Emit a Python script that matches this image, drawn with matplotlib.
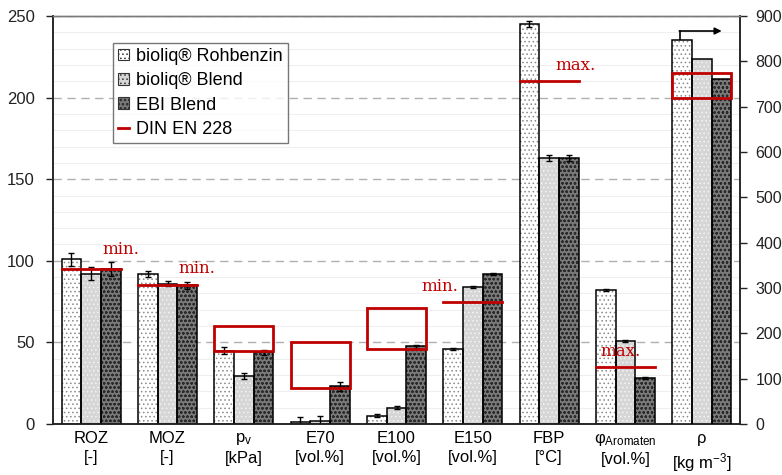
import matplotlib
matplotlib.use("Agg")
import matplotlib.pyplot as plt
from matplotlib.patches import Rectangle, Patch
from matplotlib.lines import Line2D
from matplotlib.ticker import MultipleLocator
import numpy as np

plt.rcParams['font.family'] = ['Liberation Sans', 'DejaVu Sans']
plt.rcParams['mathtext.default'] = 'regular'
plt.rcParams['hatch.linewidth'] = 0.6

# --- data -------------------------------------------------------------
categories = ["ROZ\n[-]", "MOZ\n[-]", "p$_{v}$\n[kPa]", "E70\n[vol.%]", "E100\n[vol.%]",
              "E150\n[vol.%]", "FBP\n[°C]", "φ$_{Aromaten}$\n[vol.%]", "ρ\n[kg m$^{-3}$]"]
series_names = ["bioliq® Rohbenzin", "bioliq® Blend", "EBI Blend"]

# first eight properties on the left axis, density (last) on the right axis
rohbenzin = [101, 92, 45, 1, 5, 46, 245, 82, 846]
blend     = [92, 86, 29.5, 2, 10, 84, 163, 51, 805]
ebi       = [95, 85, 44, 23, 47.5, 92, 163, 28, 760]
err_rohbenzin = [4, 2, 2, 3, 1, 0.5, 2, 0.5, 0]
err_blend     = [4, 1.5, 2, 3, 1, 0.5, 2, 0.5, 0]
err_ebi       = [4.5, 2, 1.5, 3, 1, 0.5, 2, 0.5, 0]

# DIN EN 228 limits
min_limits = {0: 95, 1: 85, 5: 75}           # single minimum values
max_limits = {6: 210, 7: 35}                 # single maximum values
range_limits = {2: (45, 60), 3: (22, 50), 4: (46, 71), 8: (720, 775)}

left_ticks = [0, 50, 100, 150, 200, 250]
right_ticks = [0, 100, 200, 300, 400, 500, 600, 700, 800, 900]

# --- styles -----------------------------------------------------------
face = ["#ffffff", "#d6d6d6", "#7a7a7a"]
hatch = ["....", "....", "oooo"]
hatch_col = ["#8a8a8a", "#f4f4f4", "#2a2a2a"]
red = "#c00000"

fig = plt.figure(figsize=(7.82, 4.75), dpi=100)
ax = fig.add_axes([53/782, 1-424/475, 687/782, 408/475])
ax2 = ax.twinx()

n = len(categories)
x = np.arange(n)
w = 0.258
values = [rohbenzin, blend, ebi]
errors = [err_rohbenzin, err_blend, err_ebi]

ax.set_xlim(-0.5, n - 0.5)
ax.set_ylim(0, 250)
ax2.set_ylim(0, 900)

for s in range(3):
    xs = x + (s - 1) * w
    for i in range(n):
        target = ax2 if i == n - 1 else ax
        v = values[s][i]
        target.bar(xs[i], v, w, color=face[s], hatch=hatch[s], edgecolor=hatch_col[s],
                   linewidth=0, zorder=3)
        target.bar(xs[i], v, w, fill=False, edgecolor="black", linewidth=1.1, zorder=4)
        if errors[s][i] > 0:
            target.errorbar(xs[i], v, yerr=errors[s][i], fmt="none", ecolor="black",
                            elinewidth=1.0, capsize=2.5, capthick=1.0, zorder=5)

group_l = lambda i: i - 1.5 * w
group_r = lambda i: i + 1.5 * w

for i, v in min_limits.items():
    ax.plot([group_l(i), group_r(i)], [v, v], color=red, lw=2.0, zorder=6)
for i, v in max_limits.items():
    ax.plot([group_l(i), group_r(i)], [v, v], color=red, lw=2.0, zorder=6)
for i, (lo, hi) in range_limits.items():
    target = ax2 if i == n - 1 else ax
    target.add_patch(Rectangle((group_l(i), lo), 3 * w, hi - lo, fill=False,
                               edgecolor=red, lw=2.0, zorder=6))

serif = dict(color=red, fontsize=12, family="DejaVu Serif", ha="center", va="center", zorder=7)
ax.text(0.384, 107, "min.", **serif)
ax.text(1.386, 95, "min.", **serif)
ax.text(4.57, 84, "min.", **serif)
ax.text(6.34, 219.5, "max.", **serif)
ax.text(6.93, 44.3, "max.", **serif)

# arrow pointing to the right-hand density axis
ax.plot([7.714, 7.714], [228.6, 240.8], color="black", lw=1.2, zorder=8)
ax.annotate("", xy=(8.26, 240.8), xytext=(7.705, 240.8),
            arrowprops=dict(arrowstyle="-|>", color="black", lw=1.2,
                            mutation_scale=10, shrinkA=0, shrinkB=0), zorder=8)

# grid
ax.yaxis.set_minor_locator(MultipleLocator(10))
ax.set_yticks(left_ticks)
ax.grid(which="minor", axis="y", color="#efefef", lw=0.8, zorder=0)
ax.grid(which="major", axis="y", color="#b0b0b0", lw=1.0, ls=(0, (6, 4)), zorder=1)
ax.set_axisbelow(True)
ax.tick_params(axis="y", which="minor", length=0)
ax.tick_params(axis="y", which="major", direction="out", length=5, width=1, pad=8,
               labelsize=12, colors="#222222")
ax2.set_yticks(right_ticks)
ax2.tick_params(axis="y", direction="out", length=5, width=1, pad=6, labelsize=11.5,
                colors="#222222")

ax.set_xticks(x)
ax.set_xticklabels(categories, fontsize=12, linespacing=1.3)
ax.tick_params(axis="x", length=0, pad=5)

for a in (ax, ax2):
    for side in ("left", "right", "bottom"):
        a.spines[side].set_color("#222222")
        a.spines[side].set_linewidth(1.1)
    a.spines["top"].set_color("#7a7a7a")
    a.spines["top"].set_linewidth(1.0)

handles = [Patch(facecolor=face[s], hatch=hatch[s], edgecolor="#333333", linewidth=0.8)
           for s in range(3)]
handles.append(Line2D([0], [0], color=red, lw=2))
leg = ax.legend(handles, series_names + ["DIN EN 228"], loc="upper left",
                bbox_to_anchor=(0.0873, 0.9346), fontsize=13, frameon=True,
                fancybox=False, edgecolor="#555555", borderaxespad=0,
                handlelength=0.6, handleheight=0.6, handletextpad=0.35,
                labelspacing=0.4, borderpad=0.3)
leg.get_frame().set_linewidth(1.0)
leg.set_zorder(10)

fig.savefig("out.png", dpi=100)
